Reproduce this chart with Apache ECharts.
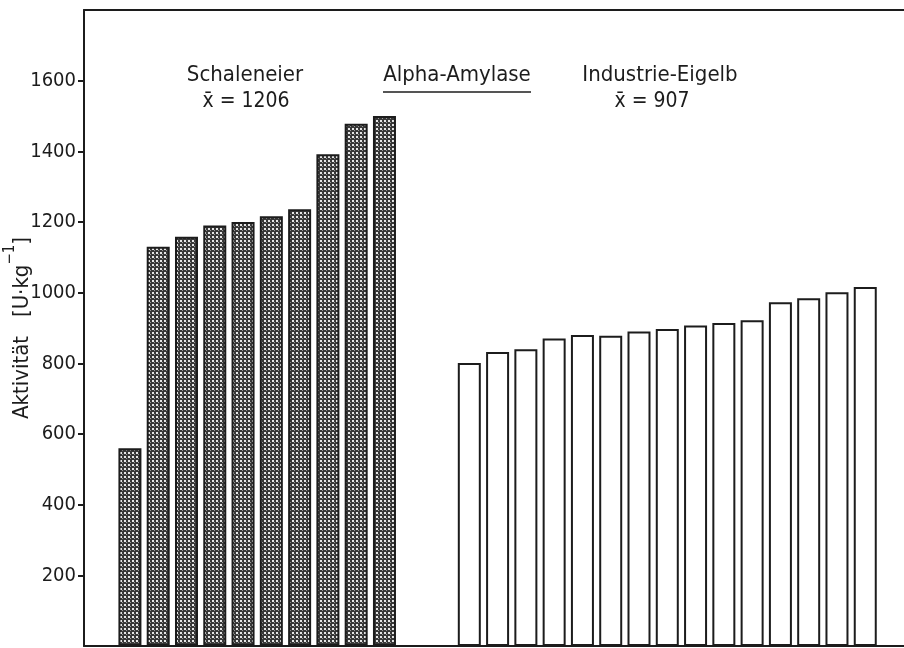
<!DOCTYPE html>
<html>
<head>
<meta charset="utf-8">
<script src="https://cdn.jsdelivr.net/npm/echarts@6/dist/echarts.min.js"></script>
<style>
  html, body { margin: 0; padding: 0; background: #fff; }
  #chart { width: 904px; height: 648px; }
</style>
</head>
<body>
<div id="chart"></div>
<script>
// Alpha-amylase activity (U/kg): shell eggs vs. industrial egg yolk, sorted ascending
const shellEggActivity = [560, 1130, 1158, 1190, 1200, 1216, 1236, 1392, 1478, 1500];
const yolkActivity = [801, 832, 840, 870, 880, 878, 890, 897, 907, 914, 922, 973, 984, 1001, 1016];
const yTickValues = [200, 400, 600, 800, 1000, 1200, 1400, 1600];

// slot layout along the x axis: one empty slot before, two between the groups
const shellFirstSlot = 1;
const yolkFirstSlot = shellFirstSlot + shellEggActivity.length + 2;

const INK = '#1c1c1c';
const FONT = '"DejaVu Sans Condensed", "Liberation Sans", sans-serif';

// dot-screen fill for the shell-egg bars: light dots on a dark ground
function dotScreen() {
  const c = document.createElement('canvas');
  c.width = 4; c.height = 4;
  const g = c.getContext('2d');
  g.fillStyle = '#383838';
  g.fillRect(0, 0, 4, 4);
  g.fillStyle = '#e6e6e6';
  g.fillRect(0, 0, 2, 2);
  g.fillStyle = '#9a9a9a';
  g.fillRect(2, 2, 1, 1);
  return c;
}

const shellData = shellEggActivity.map((v, i) => [shellFirstSlot + i, v]);
const yolkData = yolkActivity.map((v, i) => [yolkFirstSlot + i, v]);

const chart = echarts.init(document.getElementById('chart'), null, { renderer: 'canvas' });

const xMin = -0.624;
const xMax = 28.37;

chart.setOption({
  animation: false,
  backgroundColor: '#fff',
  grid: { left: 84, right: 0, top: 10, bottom: 2, containLabel: false, outerBoundsMode: 'none' },
  xAxis: [
    {
      type: 'value', min: xMin, max: xMax, position: 'bottom',
      axisLine: { show: true, onZero: false, lineStyle: { color: INK, width: 2 } },
      axisTick: { show: false }, axisLabel: { show: false }, splitLine: { show: false }
    },
    {
      type: 'value', min: xMin, max: xMax, position: 'top',
      axisLine: { show: true, onZero: false, lineStyle: { color: INK, width: 2 } },
      axisTick: { show: false }, axisLabel: { show: false }, splitLine: { show: false }
    }
  ],
  yAxis: {
    type: 'value', min: 0, max: 1800, interval: 200, position: 'left',
    axisLine: { show: true, onZero: false, lineStyle: { color: INK, width: 2 } },
    axisTick: { show: true, inside: false, length: 6, customValues: yTickValues,
      lineStyle: { color: INK, width: 2 } },
    axisLabel: {
      show: true, margin: 8, customValues: yTickValues,
      color: INK, fontFamily: FONT, fontSize: 20,
      formatter: v => (v > 0 && v < 1800 ? String(v) : '')
    },
    splitLine: { show: false },
    name: '{t|Aktivität   [U·kg}{s|−1}{t|]}',
    nameLocation: 'middle',
    nameRotate: 90,
    nameGap: 51,
    nameMoveOverlap: false,
    nameTextStyle: {
      rich: {
        t: { fontFamily: FONT, fontSize: 22, color: INK, lineHeight: 30, verticalAlign: 'bottom' },
        s: { fontFamily: FONT, fontSize: 15, color: INK, lineHeight: 30, verticalAlign: 'top' }
      }
    }
  },
  series: [
    {
      name: 'Schaleneier', type: 'bar', data: shellData,
      barWidth: 23, barGap: '-100%', silent: true,
      itemStyle: { color: { image: dotScreen(), repeat: 'repeat' }, borderColor: INK, borderWidth: 2 }
    },
    {
      name: 'Industrie-Eigelb', type: 'bar', data: yolkData,
      barWidth: 23, barGap: '-100%', silent: true,
      itemStyle: { color: '#ffffff', borderColor: INK, borderWidth: 2 }
    }
  ],
  graphic: [
    { type: 'text', x: 245, y: 75, style: { text: 'Schaleneier', font: '22px ' + FONT, fill: INK, textAlign: 'center', textVerticalAlign: 'middle' } },
    { type: 'text', x: 246, y: 102, style: { text: 'x\u0304 = 1206', font: '21px ' + FONT, fill: INK, textAlign: 'center', textVerticalAlign: 'middle' } },
    { type: 'text', x: 457, y: 75, style: { text: 'Alpha-Amylase', font: '22px ' + FONT, fill: INK, textAlign: 'center', textVerticalAlign: 'middle' } },
    { type: 'line', shape: { x1: 383, y1: 92, x2: 531, y2: 92 }, style: { stroke: INK, lineWidth: 1.5 } },
    { type: 'text', x: 660, y: 75, style: { text: 'Industrie-Eigelb', font: '22px ' + FONT, fill: INK, textAlign: 'center', textVerticalAlign: 'middle' } },
    { type: 'text', x: 652, y: 102, style: { text: 'x\u0304 = 907', font: '21px ' + FONT, fill: INK, textAlign: 'center', textVerticalAlign: 'middle' } }
  ]
});
</script>
</body>
</html>
